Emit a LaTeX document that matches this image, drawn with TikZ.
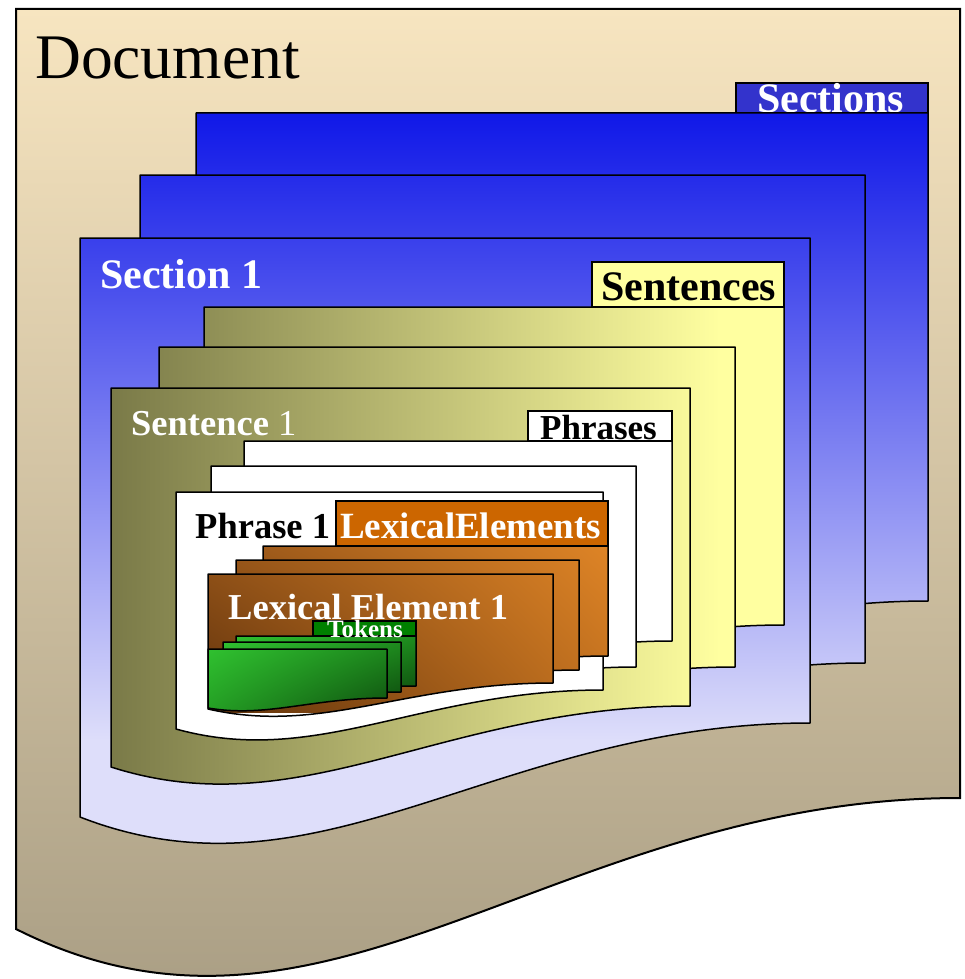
\documentclass[tikz,border=0pt]{standalone}
\usepackage{fontspec}
\setmainfont{Liberation Serif}
\usetikzlibrary{shadings}

\definecolor{docA}{RGB}{247,229,192}
\definecolor{docB}{RGB}{163,152,127}
\definecolor{secA}{RGB}{16,24,232}
\definecolor{secB}{RGB}{222,222,250}
\definecolor{secTab}{RGB}{51,51,204}
\definecolor{senA}{RGB}{122,122,72}
\definecolor{senB}{RGB}{255,255,160}
\definecolor{lexTab}{RGB}{204,102,0}
\definecolor{lexUL}{RGB}{150,85,25}
\definecolor{lexUR}{RGB}{222,132,38}
\definecolor{lexLL}{RGB}{88,45,10}
\definecolor{lexLR}{RGB}{190,110,30}
\definecolor{tokTab}{RGB}{0,128,0}
\definecolor{tokUL}{RGB}{50,200,50}
\definecolor{tokUR}{RGB}{30,140,30}
\definecolor{tokLL}{RGB}{35,155,35}
\definecolor{tokLR}{RGB}{10,60,10}

% sheet with wavy bottom: style, left, top, right, bottom right, bottom left
\newcommand{\docsheet}[6]{%
  \path[#1] (#2,#3) -- (#4,#3) -- (#4,#5)
    .. controls ({#2+0.57*(#4-#2)},#5) and ({#2+0.33*(#4-#2)},{#6+(#6-#5)}) .. (#2,#6) -- cycle;}

\tikzset{
  sheet/.style={draw=black, line width=1.5pt, line join=round},
  tab/.style={draw=black, line width=1.5pt},
  lbl/.style={anchor=base west, inner sep=0pt, font=\bfseries\fontsize{#1}{#1}\selectfont},
  secsheet/.style={sheet, path picture={\fill[secB] (0,700) rectangle (965,860);
      \shade[top color=secA, bottom color=secB] (0,113) rectangle (965,740);}},
  sensheet/.style={sheet, path picture={\fill[senB] (100,300) rectangle (800,800);
      \shade[left color=senA, right color=senB] (111,300) rectangle (720,800);}},
  phrsheet/.style={sheet, fill=white},
  lexsheet/.style={sheet, path picture={\shade[upper left=lexUL, upper right=lexUR,
      lower left=lexLL, lower right=lexLR] (208,546) rectangle (608,712);}},
  toksheet/.style={sheet, path picture={\shade[upper left=tokUL, upper right=tokUR,
      lower left=tokLL, lower right=tokLR] (208,636) rectangle (416,712);}},
}

\begin{document}
\begin{tikzpicture}[x=1pt, y=-1pt]
  \useasboundingbox (0,0) rectangle (965,979);
  % document
  \shade[top color=docA, bottom color=docB, draw=black, line width=2pt]
    (16,9) -- (960,9) -- (960,798) .. controls (554,798) and (327,1086) .. (16,929) -- cycle;
  \node[anchor=base west, inner sep=0pt, font=\fontsize{63.5}{63.5}\selectfont] (doc) at (35,79) {Document};

  % sections
  \draw[tab, fill=secTab] (736,83) rectangle (928,113);
  \node[lbl=42, text=white] (sections) at (757,113) {Sections};
  \docsheet{secsheet}{196}{113}{928}{601}{695}
  \docsheet{secsheet}{140}{175}{865}{663}{757}
  \docsheet{secsheet}{80}{238}{810}{723}{817}
  \node[lbl=42, text=white] (sec1) at (100,288) {Section 1};

  % sentences
  \draw[tab, fill=senB] (592,262) rectangle (784,307);
  \node[lbl=42] (sentences) at (601,300) {Sentences};
  \docsheet{sensheet}{204}{307}{784}{625}{686}
  \docsheet{sensheet}{159}{347}{735}{667}{728}
  \docsheet{sensheet}{111}{388}{690}{706}{767}
  \node[lbl=36.5, text=white] (sen1) at (131,435) {Sentence \textmd{1}};

  % phrases
  \draw[tab, fill=white] (528,411) rectangle (672,441);
  \node[lbl=35] (phrases) at (540,439) {Phrases};
  \docsheet{phrsheet}{244}{441}{672}{641}{680}
  \docsheet{phrsheet}{211}{466}{636}{667}{706}
  \docsheet{phrsheet}{176}{492}{603}{690}{729}
  \node[lbl=36.5] (phr1) at (195,538) {Phrase 1};

  % lexical elements
  \draw[tab, fill=lexTab] (336,501) rectangle (608,546);
  \node[lbl=37, text=white] (lexels) at (340,538) {LexicalElements};
  \docsheet{lexsheet}{263}{546}{608}{656}{682}
  \docsheet{lexsheet}{236}{560}{579}{670}{696}
  \docsheet{lexsheet}{208}{574}{553}{683}{709}
  \node[lbl=36.5, text=white] (lex1) at (228,619) {Lexical Element 1};

  % tokens
  \draw[tab, fill=tokTab] (313,621) rectangle (416,636);
  \docsheet{toksheet}{236}{636}{416}{686}{696}
  \docsheet{toksheet}{223}{642}{401}{692}{702}
  \docsheet{toksheet}{208}{649}{387}{698}{708}
  \node[lbl=25, text=white] (tokens) at (327,637) {Tokens};
\end{tikzpicture}
\end{document}
